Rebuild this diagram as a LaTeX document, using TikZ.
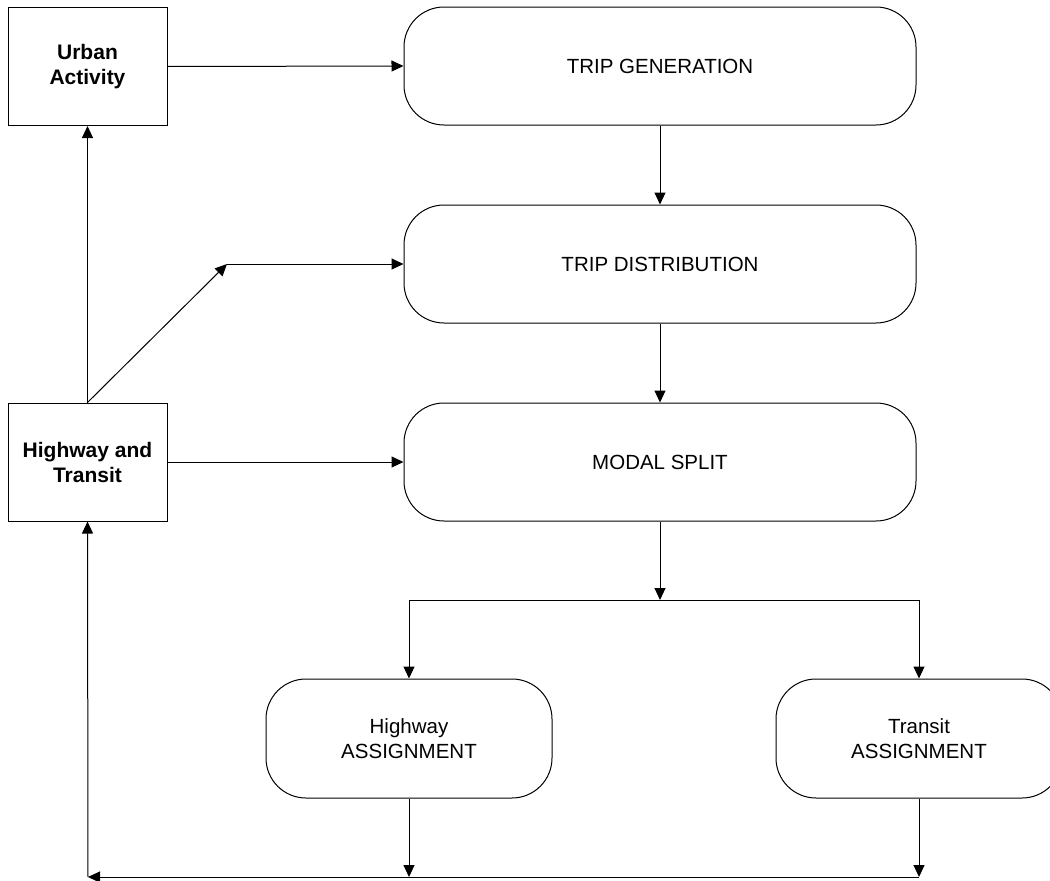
\documentclass[tikz,border=0pt]{standalone}
\usepackage{fontspec}
\setmainfont{Liberation Sans}
\usetikzlibrary{arrows.meta}
\begin{document}
\begin{tikzpicture}[x=1pt,y=-1pt,
  every path/.style={line width=1pt},
  txt/.style={font=\fontsize{20.5}{25}\selectfont, align=center, inner sep=0pt},
  inbox/.style={txt, draw, font=\bfseries\fontsize{21}{25}\selectfont, minimum width=159pt, minimum height=118pt},
  stage/.style={txt, draw, rounded corners=40pt, minimum width=512pt, minimum height=118pt},
  assign/.style={txt, draw, rounded corners=40pt, minimum width=286pt, minimum height=119pt},
  flow/.style={-{Triangle[length=12pt,width=11pt]}}]
\useasboundingbox (0,0) rectangle (1050,881);

% input boxes
\node[inbox] (ua) at (87.5,66.5) {Urban\\Activity};
\node[inbox] (ht) at (87.5,462) {Highway and\\Transit};

% model stages
\node[stage] (tg) at (660,66) {TRIP GENERATION};
\node[stage] (td) at (660,264) {TRIP DISTRIBUTION};
\node[stage] (ms) at (660,462) {MODAL SPLIT};
\node[assign] (ha) at (409,738.5) {Highway\\ASSIGNMENT};
\node[assign] (ta) at (919,738.5) {Transit\\ASSIGNMENT};

% junction points
\coordinate (mid) at (227,264);
\coordinate (split) at (660,600);
\coordinate (bl) at (88,877);
\coordinate (bh) at (409,877);
\coordinate (bt) at (919,877);

% main chain
\draw[flow] (ua.east) -- (tg.west);
\draw[flow] (tg.south) -- (td.north);
\draw[flow] (td.south) -- (ms.north);
\draw[flow] (ms.south) -- (split);
\draw (ha.north |- split) -- (ta.north |- split);
\draw[flow] (ha.north |- split) -- (ha.north);
\draw[flow] (ta.north |- split) -- (ta.north);

% network inputs
\draw[flow] (ht.north) -- (ua.south);
\draw[flow] (ht.north) -- (mid);
\draw[flow] (mid) -- (td.west);
\draw[flow] (ht.east) -- (ms.west);

% feedback from assignment
\draw[flow] (ha.south) -- (bh);
\draw[flow] (ta.south) -- (bt);
\draw[flow] (bt) -- (bl);
\draw[flow] (bl) -- (ht.south);
\end{tikzpicture}
\end{document}
